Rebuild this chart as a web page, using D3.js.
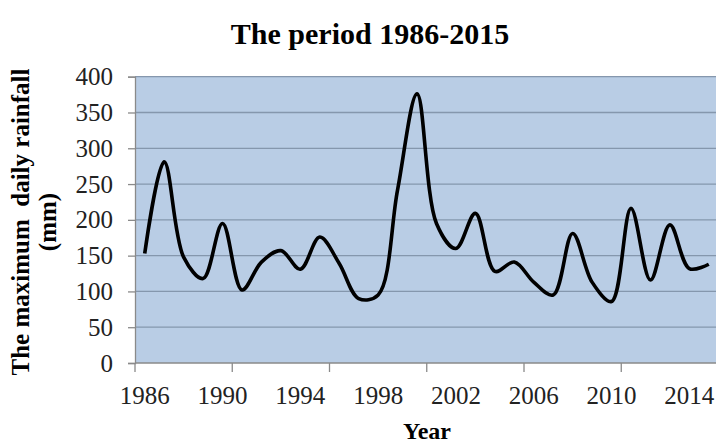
<!DOCTYPE html>
<html>
  <head>
    <title>Maximum daily rainfall 1986-2015</title>
    <script src="https://cdn.jsdelivr.net/npm/d3@7/dist/d3.min.js"></script>
    <style>
      body { margin: 0; background: #fff; }
      svg { font-family: "Liberation Serif", "Times New Roman", serif; }
      .grid line { stroke: #8597ad; stroke-width: 1.3; }
      .line { fill: none; stroke: #000; stroke-width: 3.6; }
    </style>
  </head>
  <body>
    <svg id="chart" width="716" height="443"></svg>
  </body>
  <script>
    const years = d3.range(1986, 2016);
    const rainfall = [153, 281, 148, 118, 195, 102, 141, 157, 131, 176,
                      139, 90, 95, 242, 376, 195, 160, 209, 128, 141,
                      113, 95, 181, 113, 86, 216, 116, 193, 132, 138];
    const yTicks = [0, 50, 100, 150, 200, 250, 300, 350, 400];
    const xLabelYears = [1986, 1990, 1994, 1998, 2002, 2006, 2010, 2014];
    const xTickEvery = 5;

    const svg = d3.select('#chart');
    const plotLeft = 135, plotTop = 76.7, plotBottom = 363;
    const band = 19.45;
    const plotRight = plotLeft + band * years.length;

    const x = d3.scalePoint().domain(years).range([plotLeft + band / 2, plotRight - band / 2]);
    const y = d3.scaleLinear().domain([0, 400]).range([plotBottom, plotTop]);

    // plot area
    svg.append('rect')
      .attr('x', plotLeft).attr('y', plotTop)
      .attr('width', plotRight - plotLeft).attr('height', plotBottom - plotTop)
      .attr('fill', '#b9cde5');

    // gridlines
    svg.append('g').attr('class', 'grid')
      .selectAll('line').data(yTicks.filter(d => d > 0)).join('line')
      .attr('x1', plotLeft).attr('x2', plotRight)
      .attr('y1', d => y(d)).attr('y2', d => y(d));

    // y axis
    const yAxis = svg.append('g').attr('transform', `translate(${plotLeft},0)`)
      .call(d3.axisLeft(y).tickValues(yTicks).tickSize(7).tickPadding(15));
    yAxis.attr('font-family', null).attr('font-size', null);
    yAxis.select('.domain').attr('stroke', '#8a8a8a').attr('stroke-width', 1.3);
    yAxis.selectAll('.tick line').attr('stroke', '#8a8a8a').attr('stroke-width', 1.3);
    yAxis.selectAll('text').attr('font-size', 25).attr('fill', '#222');

    // x axis: tick marks every 5 categories, labels every 4 years
    const xg = svg.append('g');
    xg.append('line').attr('x1', plotLeft).attr('x2', plotRight)
      .attr('y1', plotBottom).attr('y2', plotBottom)
      .attr('stroke', '#8a8a8a').attr('stroke-width', 1.3);
    xg.selectAll('.xt').data(d3.range(0, years.length + 1, xTickEvery)).join('line')
      .attr('class', 'xt')
      .attr('x1', i => plotLeft + i * band).attr('x2', i => plotLeft + i * band)
      .attr('y1', plotBottom).attr('y2', plotBottom + 9)
      .attr('stroke', '#8a8a8a').attr('stroke-width', 1.3);
    xg.selectAll('text').data(xLabelYears).join('text')
      .attr('x', d => x(d)).attr('y', 404)
      .attr('text-anchor', 'middle').attr('font-size', 25).attr('fill', '#222')
      .text(d => d);

    // smoothed line
    const valueLine = d3.line()
      .x((d, i) => x(years[i]))
      .y(d => y(d))
      .curve(d3.curveCatmullRom.alpha(0.5));
    svg.append('path').datum(rainfall).attr('class', 'line').attr('d', valueLine);

    // titles
    svg.append('text').attr('x', 370).attr('y', 44)
      .attr('text-anchor', 'middle').attr('font-size', 30).attr('font-weight', 'bold')
      .text('The period 1986-2015');
    svg.append('text').attr('x', 427).attr('y', 439)
      .attr('text-anchor', 'middle').attr('font-size', 24).attr('font-weight', 'bold')
      .text('Year');
    const yt = svg.append('text').attr('transform', 'translate(0,222) rotate(-90)')
      .attr('text-anchor', 'middle').attr('font-size', 25).attr('font-weight', 'bold');
    yt.append('tspan').attr('x', 0).attr('y', 29).attr('xml:space', 'preserve').text('The maximum  daily rainfall');
    yt.append('tspan').attr('x', 0).attr('y', 56).text('(mm)');
  </script>
</html>
